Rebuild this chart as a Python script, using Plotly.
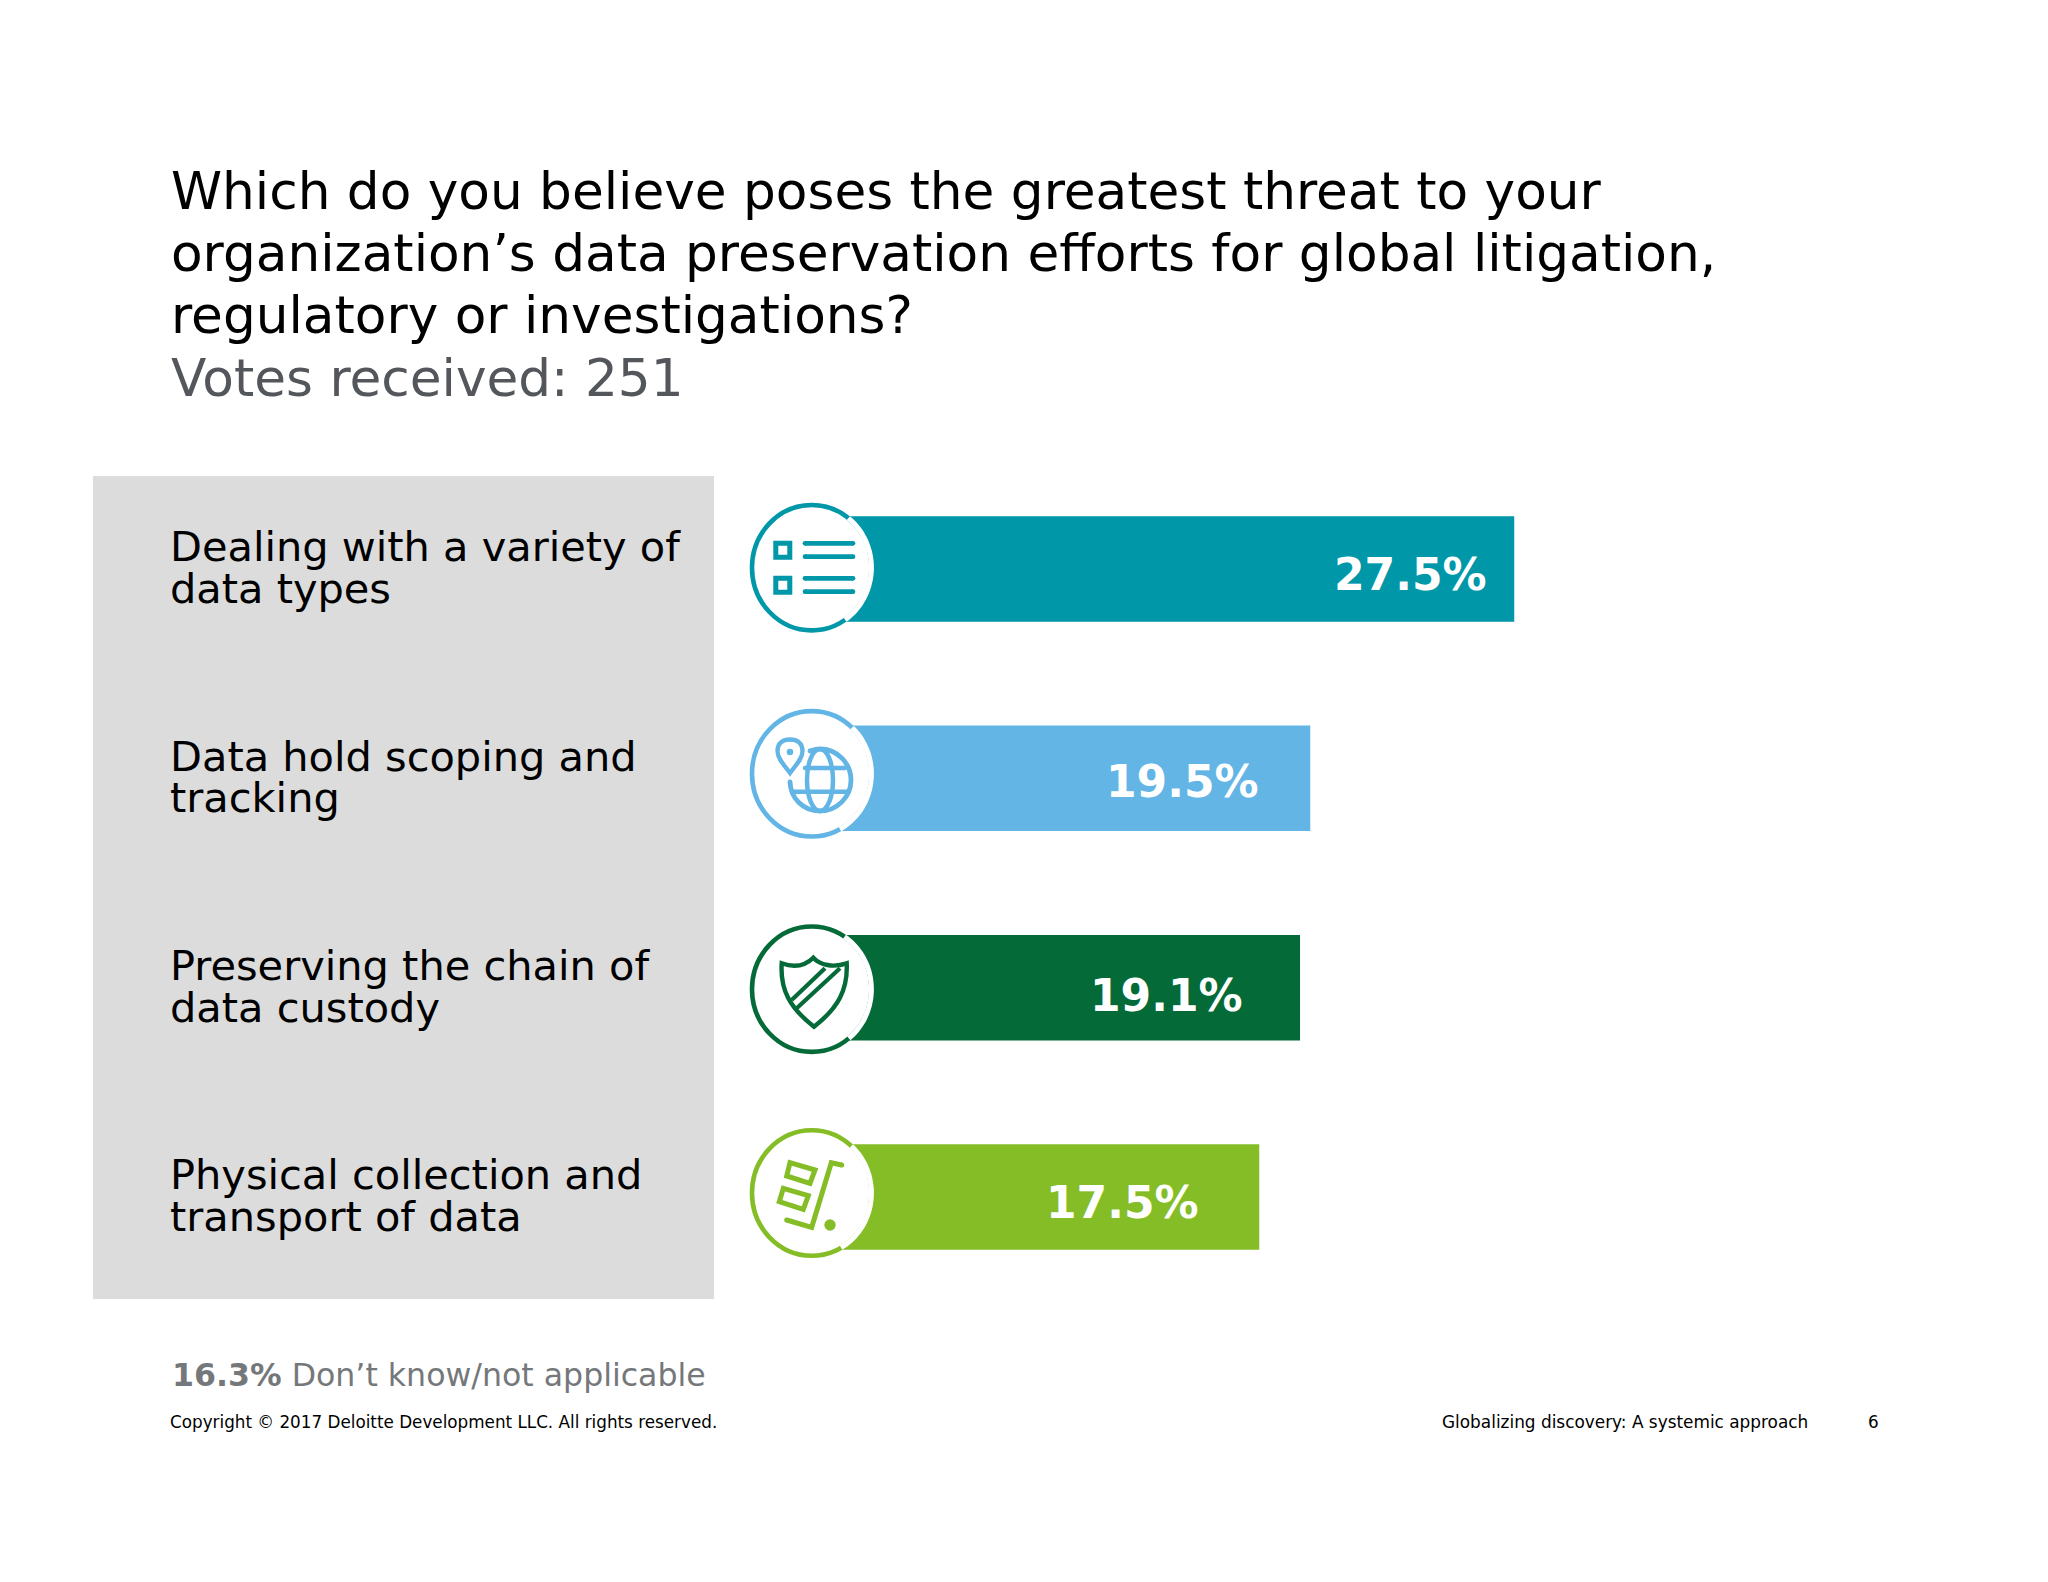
import math
import plotly.graph_objects as go

W, H = 2048, 1582

# data
categories = ["Dealing with a variety of<br>data types",
              "Data hold scoping and<br>tracking",
              "Preserving the chain of<br>data custody",
              "Physical collection and<br>transport of data"]
values = [27.5, 19.5, 19.1, 17.5]
value_labels = ["27.5%", "19.5%", "19.1%", "17.5%"]
colors = ["#0097A9", "#62B5E5", "#046A38", "#84BD26"]

# gap from bar end to the right edge of its label, and vertical nudge
label_gaps = [25, 49, 55, 58]
label_nudges = [6, 3, 8, 5]
circle_y = [567.7, 773.8, 989.2, 1193]
circle_x = 811.7
bar_mid_y = [569, 778.5, 987.5, 1197]
bar_half = 52.75

title_lines = ["Which do you believe poses the greatest threat to your",
               "organization\u2019s data preservation efforts for global litigation,",
               "regulatory or investigations?",
               "Votes received: 251"]
title_colors = ["black", "black", "black", "#53565A"]
title_y = [191, 253, 315, 378]
font = "DejaVu Sans"

fig = go.Figure()
fig.add_trace(go.Bar(x=values, y=categories, orientation="h",
                     marker=dict(color=colors, line_width=0), hoverinfo="skip"))

shapes = []


def stroke(path, color, width=4.5):
    shapes.append(dict(type="path", path=path, xref="x2", yref="y2",
                       line=dict(color=color, width=width), layer="above"))


def dot(x, y, r, color):
    shapes.append(dict(type="circle", xref="x2", yref="y2", x0=x - r, x1=x + r, y0=y - r, y1=y + r,
                       fillcolor=color, line_width=0, layer="above"))


def ell(x, y, rx, ry, color, width=4, fill=None):
    shapes.append(dict(type="circle", xref="x2", yref="y2", x0=x - rx, x1=x + rx, y0=y - ry, y1=y + ry,
                       fillcolor=fill, line=dict(color=color, width=width), layer="above"))


def rline(x0, y0, x1, y1, color, width=4.5):
    stroke(f"M {x0},{y0} L {x1},{y1}", color, width)
    dot(x0, y0, width / 2, color)
    dot(x1, y1, width / 2, color)


# grey panel behind the category labels
shapes.append(dict(type="rect", xref="x2", yref="y2", x0=93, x1=714, y0=476, y1=1299,
                   fillcolor="#DCDCDC", line_width=0, layer="below"))

# icon rings, the part of the ring lying on the bar is white
rx, ry = 59.7, 62.7
for cy, mid, c in zip(circle_y, bar_mid_y, colors):
    ell(circle_x, cy, rx, ry, c, width=4.6, fill="white")
    a0 = math.asin((mid - bar_half - cy) / (ry + 2.5))
    a1 = math.asin((mid + bar_half - cy) / (ry + 2.5))
    steps = [a0 + (a1 - a0) * i / 40 for i in range(41)]
    pts = [f"{circle_x + rx * math.cos(a):.1f},{cy + ry * math.sin(a):.1f}" for a in steps]
    stroke("M " + " L ".join(pts), "white", 5)

# list icon
c = colors[0]
for y in [543.2, 578.2]:
    shapes.append(dict(type="rect", xref="x2", yref="y2", x0=775.8, x1=789.8, y0=y, y1=y + 14,
                       line=dict(color=c, width=5), layer="above"))
for y in [543.3, 556.7, 578.3, 591.7]:
    rline(805, y, 853, y, c, 4.7)

# globe and pin icon
c = colors[1]
stroke("M 790,773 C 785,766 777.5,759 777.5,751 C 777.5,743 783,739.5 790,739.5 "
       "C 797,739.5 802.5,743 802.5,751 C 802.5,759 795,766 790,773 Z", c, 4.3)
dot(790, 752, 3.3, c)
stroke("M 790,782 C 790.5,798 803,811 820,811 C 837,811 851,797 851,780 "
       "C 851,763 837,749 820,749 C 816,749 813,750 810,751", c, 4.8)
dot(790, 782, 2.4, c)
dot(810, 751, 2.4, c)
ell(820, 780, 13, 31, c, width=4.5)
rline(805, 768, 845, 768, c, 4.5)
rline(793, 791.7, 847, 791.7, c, 4.5)

# shield icon
c = colors[2]
stroke("M 813.3,957.7 C 806,965 795,968 781.7,963.3 C 780,990 790,1008 814,1026.7 "
       "C 838,1008 848,990 846.7,963.3 C 833,968 820,965 813.3,957.7 Z", c, 4.4)
stroke("M 791.7,1000 L 825,968.3", c, 4.2)
stroke("M 796.7,1008.3 L 840,968.3", c, 4.2)

# hand truck icon
c = colors[3]
stroke("M 790,1162.7 L 815,1170 L 810,1183.3 L 786.7,1176 Z", c, 5)
stroke("M 783.3,1188.3 L 808.3,1195.7 L 803.3,1209.3 L 779.3,1201.7 Z", c, 5)
stroke("M 841.7,1165 L 831.3,1162.7 L 811.7,1227.3 L 786.7,1220", c, 5)
dot(841.7, 1165, 2.5, c)
dot(786.7, 1220, 2.5, c)
dot(830, 1225, 5.7, c)

annotations = []
for line, col, y in zip(title_lines, title_colors, title_y):
    annotations.append(dict(text=line, xref="paper", yref="paper", x=168.5 / W, y=1 - y / H,
                            xanchor="left", yanchor="middle", showarrow=False,
                            font=dict(family=font, size=51.7, color=col)))

for cat, val, text, gap, nudge in zip(categories, values, value_labels, label_gaps, label_nudges):
    for line, shift in zip(cat.split("<br>"), [22.2, -19.6]):
        annotations.append(dict(text=line, xref="paper", x=168.2 / W, xanchor="left", yref="y", y=cat,
                                yshift=shift, showarrow=False, align="left",
                                font=dict(family=font, size=41.5, color="black")))
    annotations.append(dict(text=f"<b>{text}</b>", xref="x", x=val, xanchor="right", xshift=-gap,
                            yref="y", y=cat, yshift=-nudge, showarrow=False,
                            font=dict(family=font, size=44, color="white")))

annotations.append(dict(text="<b>16.3%</b> Don\u2019t know/not applicable", xref="paper", yref="paper",
                        x=170 / W, y=1 - 1375 / H, xanchor="left", yanchor="middle", showarrow=False,
                        font=dict(family=font, size=31.6, color="#75787B")))
annotations.append(dict(text="Copyright \u00a9 2017 Deloitte Development LLC. All rights reserved.",
                        xref="paper", yref="paper", x=167.5 / W, y=1 - 1422 / H, xanchor="left",
                        yanchor="middle", showarrow=False, font=dict(family=font, size=16.8, color="black")))
annotations.append(dict(text="Globalizing discovery: A systemic approach", xref="paper", yref="paper",
                        x=1810 / W, y=1 - 1422 / H, xanchor="right", yanchor="middle", showarrow=False,
                        font=dict(family=font, size=16.9, color="black")))
annotations.append(dict(text="6", xref="paper", yref="paper", x=1880.6 / W, y=1 - 1422 / H,
                        xanchor="right", yanchor="middle", showarrow=False,
                        font=dict(family=font, size=16.8, color="black")))

fig.update_layout(
    width=W, height=H, margin=dict(l=0, r=0, t=0, b=0),
    paper_bgcolor="white", plot_bgcolor="rgba(0,0,0,0)", showlegend=False,
    xaxis=dict(domain=[813 / W, 1], range=[0, (W - 813) / 25.5], visible=False, fixedrange=True),
    yaxis=dict(domain=[1 - 1301.7 / H, 1 - 464.3 / H], autorange="reversed", visible=False,
               categoryorder="array", categoryarray=categories, fixedrange=True),
    xaxis2=dict(domain=[0, 1], range=[0, W], anchor="y2", visible=False, fixedrange=True),
    yaxis2=dict(domain=[0, 1], range=[H, 0], anchor="x2", visible=False, fixedrange=True),
    bargap=0.496, shapes=shapes, annotations=annotations,
)
fig.write_html("out.html", config=dict(displayModeBar=False),
               post_script="document.body.style.margin='0';")
